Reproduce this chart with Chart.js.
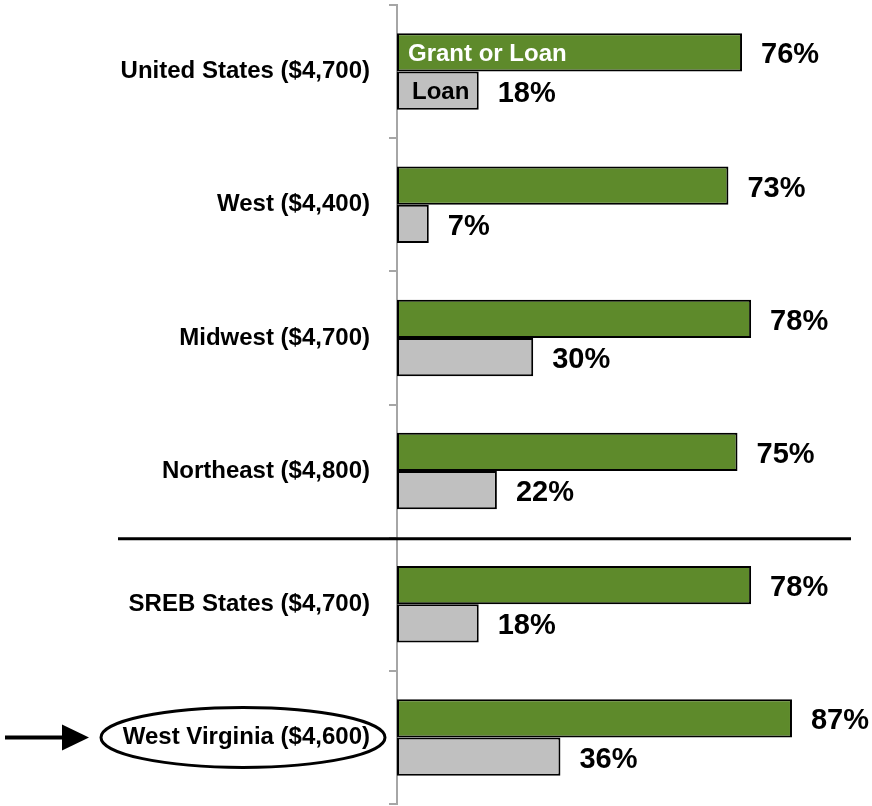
<!DOCTYPE html>
<html>
<head>
<meta charset="utf-8">
<script src="https://cdn.jsdelivr.net/npm/chart.js@4.4.1/dist/chart.umd.min.js"></script>
<style>
html,body{margin:0;padding:0;background:#fff;}
canvas{display:block;}
</style>
</head>
<body>
<canvas id="c" width="872" height="806"></canvas>
<script>
const categories = ["United States ($4,700)", "West ($4,400)", "Midwest ($4,700)", "Northeast ($4,800)", "SREB States ($4,700)", "West Virginia ($4,600)"];
const grantOrLoan = [76, 73, 78, 75, 78, 87];
const loanOnly = [18, 7, 30, 22, 18, 36];
const seriesNames = ["Grant or Loan", "Loan"];

const SANS = "'Liberation Sans', Arial, sans-serif";

const overlay = {
  id: 'overlay',
  afterDatasetsDraw(chart) {
    const ctx = chart.ctx;
    const ys = chart.scales.y;
    const area = chart.chartArea;
    ctx.save();
    // value labels
    ctx.font = "bold 29px " + SANS;
    ctx.fillStyle = '#000';
    ctx.textBaseline = 'middle';
    ctx.textAlign = 'left';
    chart.data.datasets.forEach((ds, di) => {
      const meta = chart.getDatasetMeta(di);
      meta.data.forEach((el, i) => {
        ctx.fillText(ds.data[i] + '%', el.x + 19, el.y + 3);
      });
    });
    // legend text inside first bars
    ctx.font = "bold 24px " + SANS;
    const g = chart.getDatasetMeta(0).data[0];
    const l = chart.getDatasetMeta(1).data[0];
    ctx.fillStyle = '#fff';
    ctx.fillText(chart.data.datasets[0].label, g.base + 11, g.y + 2);
    ctx.fillStyle = '#000';
    ctx.fillText(chart.data.datasets[1].label, l.base + 15, l.y + 2);
    // separator line
    const sepY = (ys.getPixelForValue(3) + ys.getPixelForValue(4)) / 2 + 1;
    ctx.strokeStyle = '#000';
    ctx.lineWidth = 3;
    ctx.beginPath();
    ctx.moveTo(118, sepY);
    ctx.lineTo(area.right, sepY);
    ctx.stroke();
    // ellipse around West Virginia
    const wy = ys.getPixelForValue(5);
    ctx.lineWidth = 3;
    ctx.beginPath();
    ctx.ellipse(243, wy, 142, 30, 0, 0, Math.PI * 2);
    ctx.stroke();
    // arrow
    ctx.lineWidth = 4;
    ctx.beginPath();
    ctx.moveTo(5, wy);
    ctx.lineTo(66, wy);
    ctx.stroke();
    ctx.fillStyle = '#000';
    ctx.beginPath();
    ctx.moveTo(62, wy - 13);
    ctx.lineTo(89, wy);
    ctx.lineTo(62, wy + 13);
    ctx.closePath();
    ctx.fill();
    ctx.restore();
  }
};

new Chart(document.getElementById('c'), {
  type: 'bar',
  data: {
    labels: categories,
    datasets: [
      { label: seriesNames[0], data: grantOrLoan, backgroundColor: '#5E8A2B', borderColor: '#000', borderWidth: 2, borderSkipped: false },
      { label: seriesNames[1], data: loanOnly, backgroundColor: '#C0C0C0', borderColor: '#000', borderWidth: 2, borderSkipped: false }
    ]
  },
  options: {
    indexAxis: 'y',
    responsive: false,
    devicePixelRatio: 1,
    animation: false,
    layout: { padding: { top: 5, bottom: 2, right: 21, left: 0 } },
    datasets: { bar: { categoryPercentage: 0.575, barPercentage: 1.0 } },
    plugins: { legend: { display: false }, tooltip: { enabled: false } },
    scales: {
      x: { display: false, min: 0, max: 100 },
      y: {
        afterFit(scale) { scale.width = 397; scale.paddingTop = 0; scale.paddingBottom = 0; },
        grid: { display: true, drawOnChartArea: false, drawTicks: true, tickLength: 8, color: '#a6a6a6', lineWidth: 2, offset: true },
        border: { display: true, color: '#a6a6a6', width: 2 },
        ticks: { color: '#000', padding: 19, font: { family: SANS, size: 24, weight: 'bold' } }
      }
    }
  },
  plugins: [overlay]
});
</script>
</body>
</html>
